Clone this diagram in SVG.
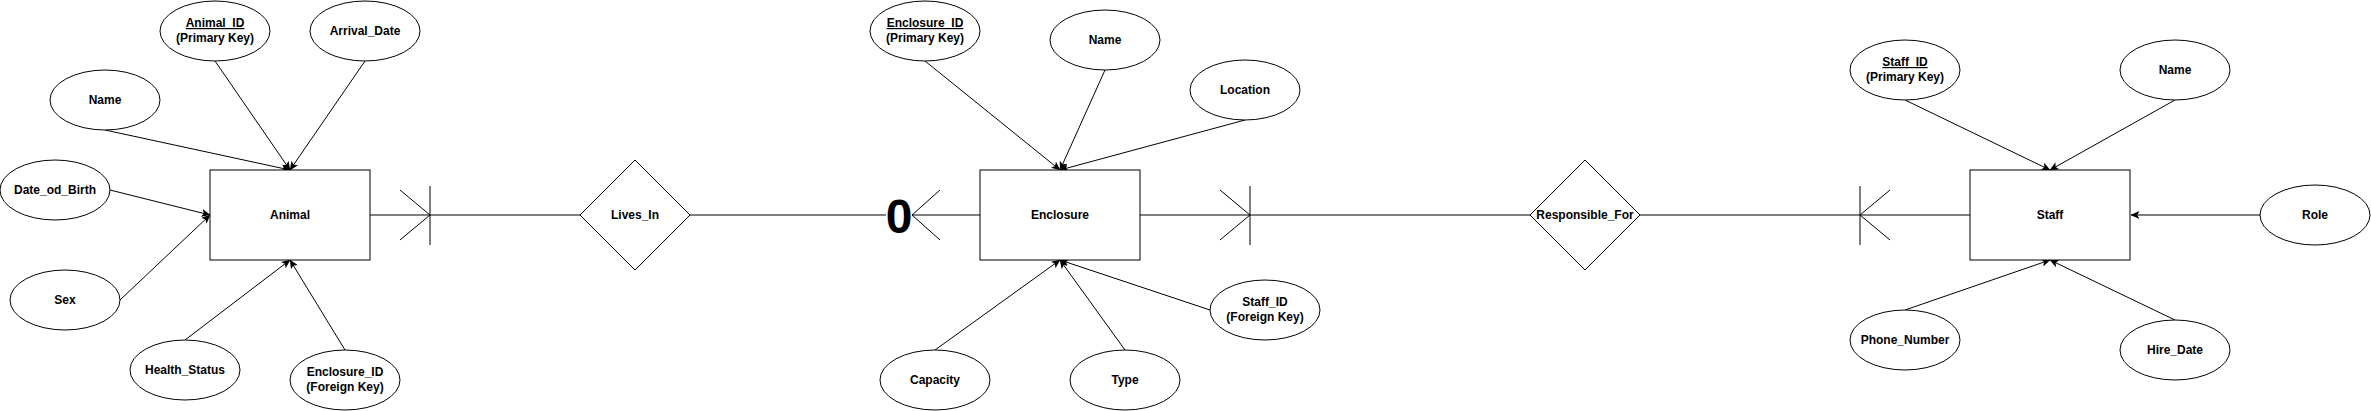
<svg xmlns="http://www.w3.org/2000/svg" width="2371" height="411" viewBox="0 0 2371 411">
<style>
  .shape{fill:#ffffff;stroke:#000000;stroke-width:1}
  .lbl{font-family:"Liberation Sans",Arial,Helvetica,sans-serif;font-size:12px;font-weight:bold;fill:#000000;text-anchor:middle}
  .u{text-decoration:underline}
  .edge{fill:none;stroke:#000000;stroke-width:1}
  .arr{marker-end:url(#classic)}
  .zero{font-family:"Liberation Sans",Arial,Helvetica,sans-serif;font-size:48px;font-weight:bold;fill:#000000;text-anchor:middle}
</style>
<defs>
  <marker id="classic" viewBox="0 0 9 8" refX="8.5" refY="4" markerWidth="9" markerHeight="8" markerUnits="userSpaceOnUse" orient="auto">
    <path d="M0,0 L9,4 L0,8 L2.2,4 z" fill="#000000" stroke="none"/>
  </marker>
</defs>
<rect width="2371" height="411" fill="#ffffff"/>

<g id="connectors">
  <!-- Animal attributes -->
  <line class="edge arr" x1="215" y1="61" x2="290" y2="170"/>
  <line class="edge arr" x1="365" y1="61" x2="290" y2="170"/>
  <line class="edge arr" x1="105" y1="130" x2="290" y2="170"/>
  <line class="edge arr" x1="110" y1="190" x2="210" y2="215"/>
  <line class="edge arr" x1="120" y1="300" x2="210" y2="215"/>
  <line class="edge arr" x1="185" y1="340" x2="290" y2="260"/>
  <line class="edge arr" x1="345" y1="350" x2="290" y2="260"/>
  <!-- Enclosure attributes -->
  <line class="edge arr" x1="925" y1="61" x2="1060" y2="170"/>
  <line class="edge arr" x1="1105" y1="70" x2="1060" y2="170"/>
  <line class="edge arr" x1="1245" y1="120" x2="1060" y2="170"/>
  <line class="edge arr" x1="935" y1="350" x2="1060" y2="260"/>
  <line class="edge arr" x1="1125" y1="350" x2="1060" y2="260"/>
  <line class="edge arr" x1="1210" y1="310" x2="1060" y2="260"/>
  <!-- Staff attributes -->
  <line class="edge arr" x1="1905" y1="100" x2="2050" y2="170"/>
  <line class="edge arr" x1="2175" y1="100" x2="2050" y2="170"/>
  <line class="edge arr" x1="2260" y1="215" x2="2131" y2="215"/>
  <line class="edge arr" x1="1905" y1="310" x2="2050" y2="260"/>
  <line class="edge arr" x1="2175" y1="320" x2="2050" y2="260"/>

  <!-- Animal - Lives_In -->
  <line class="edge" x1="370" y1="215" x2="580" y2="215"/>
  <line class="edge" x1="430" y1="186" x2="430" y2="245"/>
  <line class="edge" x1="400" y1="190" x2="430" y2="215"/>
  <line class="edge" x1="400" y1="240" x2="430" y2="215"/>
  <!-- Lives_In - Enclosure -->
  <line class="edge" x1="690" y1="215" x2="886" y2="215"/>
  <line class="edge" x1="912" y1="215" x2="980" y2="215"/>
  <line class="edge" x1="940" y1="190" x2="912" y2="215"/>
  <line class="edge" x1="940" y1="240" x2="912" y2="215"/>
  <text class="zero" x="899" y="232.5">0</text>
  <!-- Enclosure - Responsible_For -->
  <line class="edge" x1="1140" y1="215" x2="1530" y2="215"/>
  <line class="edge" x1="1250" y1="186" x2="1250" y2="245"/>
  <line class="edge" x1="1220" y1="190" x2="1250" y2="215"/>
  <line class="edge" x1="1220" y1="240" x2="1250" y2="215"/>
  <!-- Responsible_For - Staff -->
  <line class="edge" x1="1640" y1="215" x2="1970" y2="215"/>
  <line class="edge" x1="1860" y1="186" x2="1860" y2="245"/>
  <line class="edge" x1="1890" y1="190" x2="1860" y2="215"/>
  <line class="edge" x1="1890" y1="240" x2="1860" y2="215"/>
</g>

<!-- Entities -->
<g id="animal"><rect class="shape" x="210" y="170" width="160" height="90"/><text class="lbl" x="290" y="219">Animal</text></g>
<g id="enclosure"><rect class="shape" x="980" y="170" width="160" height="90"/><text class="lbl" x="1060" y="219">Enclosure</text></g>
<g id="staff"><rect class="shape" x="1970" y="170" width="160" height="90"/><text class="lbl" x="2050" y="219">Staff</text></g>

<!-- Relationships -->
<g id="lives_in"><polygon class="shape" points="635,160 690,215 635,270 580,215"/><text class="lbl" x="635" y="219">Lives_In</text></g>
<g id="responsible_for"><polygon class="shape" points="1585,160 1640,215 1585,270 1530,215"/><text class="lbl" x="1585" y="219">Responsible_For</text></g>

<!-- Animal attributes -->
<g id="animal_id"><ellipse class="shape" cx="215" cy="31" rx="55" ry="30"/><text class="lbl u" x="215" y="27">Animal_ID</text><text class="lbl" x="215" y="42">(Primary Key)</text></g>
<g id="arrival_date"><ellipse class="shape" cx="365" cy="31" rx="55" ry="30"/><text class="lbl" x="365" y="35">Arrival_Date</text></g>
<g id="animal_name"><ellipse class="shape" cx="105" cy="100" rx="55" ry="30"/><text class="lbl" x="105" y="104">Name</text></g>
<g id="date_of_birth"><ellipse class="shape" cx="55" cy="190" rx="55" ry="30"/><text class="lbl" x="55" y="194">Date_od_Birth</text></g>
<g id="sex"><ellipse class="shape" cx="65" cy="300" rx="55" ry="30"/><text class="lbl" x="65" y="304">Sex</text></g>
<g id="health_status"><ellipse class="shape" cx="185" cy="370" rx="55" ry="30"/><text class="lbl" x="185" y="374">Health_Status</text></g>
<g id="animal_enclosure_fk"><ellipse class="shape" cx="345" cy="380" rx="55" ry="30"/><text class="lbl" x="345" y="376">Enclosure_ID</text><text class="lbl" x="345" y="391">(Foreign Key)</text></g>

<!-- Enclosure attributes -->
<g id="enclosure_id"><ellipse class="shape" cx="925" cy="31" rx="55" ry="30"/><text class="lbl u" x="925" y="27">Enclosure_ID</text><text class="lbl" x="925" y="42">(Primary Key)</text></g>
<g id="enclosure_name"><ellipse class="shape" cx="1105" cy="40" rx="55" ry="30"/><text class="lbl" x="1105" y="44">Name</text></g>
<g id="location"><ellipse class="shape" cx="1245" cy="90" rx="55" ry="30"/><text class="lbl" x="1245" y="94">Location</text></g>
<g id="capacity"><ellipse class="shape" cx="935" cy="380" rx="55" ry="30"/><text class="lbl" x="935" y="384">Capacity</text></g>
<g id="type"><ellipse class="shape" cx="1125" cy="380" rx="55" ry="30"/><text class="lbl" x="1125" y="384">Type</text></g>
<g id="enclosure_staff_fk"><ellipse class="shape" cx="1265" cy="310" rx="55" ry="30"/><text class="lbl" x="1265" y="306">Staff_ID</text><text class="lbl" x="1265" y="321">(Foreign Key)</text></g>

<!-- Staff attributes -->
<g id="staff_id"><ellipse class="shape" cx="1905" cy="70" rx="55" ry="30"/><text class="lbl u" x="1905" y="66">Staff_ID</text><text class="lbl" x="1905" y="81">(Primary Key)</text></g>
<g id="staff_name"><ellipse class="shape" cx="2175" cy="70" rx="55" ry="30"/><text class="lbl" x="2175" y="74">Name</text></g>
<g id="role"><ellipse class="shape" cx="2315" cy="215" rx="55" ry="30"/><text class="lbl" x="2315" y="219">Role</text></g>
<g id="phone_number"><ellipse class="shape" cx="1905" cy="340" rx="55" ry="30"/><text class="lbl" x="1905" y="344">Phone_Number</text></g>
<g id="hire_date"><ellipse class="shape" cx="2175" cy="350" rx="55" ry="30"/><text class="lbl" x="2175" y="354">Hire_Date</text></g>
</svg>
